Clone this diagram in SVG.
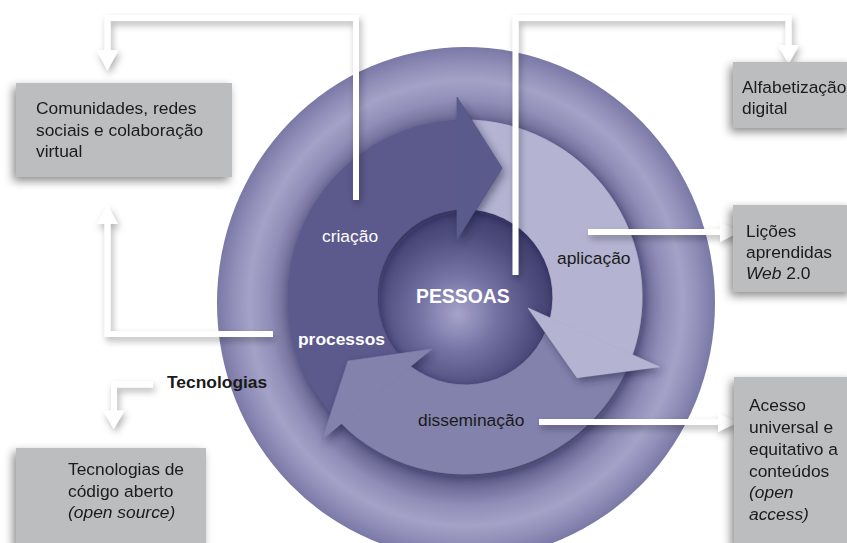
<svg xmlns="http://www.w3.org/2000/svg" width="847" height="543" viewBox="0 0 847 543">
<style>
.t{font-family:"Liberation Sans",Arial,sans-serif;font-size:17.4px;fill:#1a1a1a}
.w{fill:#ffffff}
.b{font-weight:bold}
.i{font-style:italic}
.box{fill:#bcbdbf}
.ln{fill:none;stroke:#ffffff;stroke-width:6;stroke-linejoin:miter;stroke-linecap:butt}
.hd{fill:#ffffff}
.cr{fill:#5b5a8c;stroke:#5b5a8c;stroke-width:0.8}
.ap{fill:#b4b4d2;stroke:#b4b4d2;stroke-width:0.8}
.di{fill:#8382ad;stroke:#8382ad;stroke-width:0.8}
.sh{fill:#1e1c40;opacity:0.5}
</style>
<defs>
<radialGradient id="gOuter" cx="0.5" cy="0.5" r="0.5">
<stop offset="0.66" stop-color="#56547f"/>
<stop offset="0.715" stop-color="#6c6a96"/>
<stop offset="0.79" stop-color="#908eb8"/>
<stop offset="0.87" stop-color="#a4a2c7"/>
<stop offset="0.94" stop-color="#908eb8"/>
<stop offset="1" stop-color="#7a78a5"/>
</radialGradient>
<radialGradient id="gCenter" cx="0.46" cy="0.58" r="0.62" fx="0.46" fy="0.6">
<stop offset="0" stop-color="#a6a4cb"/>
<stop offset="0.35" stop-color="#7573a4"/>
<stop offset="0.72" stop-color="#4e4c7d"/>
<stop offset="1" stop-color="#3a3866"/>
</radialGradient>
<filter id="fBox" filterUnits="userSpaceOnUse" x="0" y="0" width="847" height="543">
<feDropShadow dx="-3" dy="4" stdDeviation="5" flood-color="#000" flood-opacity="0.45"/>
</filter>
<filter id="fLine" filterUnits="userSpaceOnUse" x="0" y="0" width="847" height="543">
<feDropShadow dx="2" dy="4" stdDeviation="3.5" flood-color="#000" flood-opacity="0.3"/>
</filter>
<filter id="fBand" filterUnits="userSpaceOnUse" x="0" y="0" width="847" height="543">
<feDropShadow dx="2" dy="3" stdDeviation="5" flood-color="#1e1c40" flood-opacity="0.4"/>
</filter>
<filter id="fBlur" filterUnits="userSpaceOnUse" x="0" y="0" width="847" height="543">
<feGaussianBlur stdDeviation="4.5"/>
</filter>
<mask id="mCr" maskUnits="userSpaceOnUse" x="0" y="0" width="847" height="543">
<rect width="847" height="543" fill="#fff"/>
<path d="M337.7,420 A177,177 0 0 1 457,120.2 L457,97 L502,168 L457,240 L457,209.4 A88,88 0 0 0 401.7,358.1 Z" fill="#000"/>
</mask>
<mask id="mAp" maskUnits="userSpaceOnUse" x="0" y="0" width="847" height="543">
<rect width="847" height="543" fill="#fff"/>
<path d="M465,120 A177,177 0 0 1 632.4,354.6 L660,367 L577,378 L528,308 L550.4,318 A88,88 0 0 0 465,209 Z" fill="#000"/>
</mask>
<mask id="mDi" maskUnits="userSpaceOnUse" x="0" y="0" width="847" height="543">
<rect width="847" height="543" fill="#fff"/>
<path d="M629.1,363.3 A177,177 0 0 1 341.5,423.8 L322,440 L348,361 L432,349 L410.9,366.4 A88,88 0 0 0 546.6,330 Z" fill="#000"/>
</mask>
</defs>

<g id="ring">
<ellipse cx="466" cy="303" rx="249" ry="256" fill="url(#gOuter)"/>
</g>

<g id="center">
<circle cx="465" cy="297" r="88" fill="url(#gCenter)"/>
</g>

<g id="bands" filter="url(#fBand)">
<path class="cr" d="M337.7,420 A177,177 0 0 1 457,120.2 L457,209.4 A88,88 0 0 0 401.7,358.1 Z"/>
<path class="ap" d="M465,120 A177,177 0 0 1 632.4,354.6 L550.4,318 A88,88 0 0 0 465,209 Z"/>
<path class="di" d="M629.1,363.3 A177,177 0 0 1 341.5,423.8 L410.9,366.4 A88,88 0 0 0 546.6,330 Z"/>
</g>

<g id="arrowheads">
<path class="cr" d="M457,97 L502,168 L457,240 Z"/>
<path class="ap" d="M528,308 L660,367 L577,378 Z"/>
<path class="di" d="M432,349 L348,361 L322,440 Z"/>
</g>

<g id="arrow-shadows">
<g mask="url(#mCr)"><path class="sh" filter="url(#fBlur)" transform="translate(3,4)" d="M457,97 L502,168 L457,240 Z"/></g>
<g mask="url(#mAp)"><path class="sh" filter="url(#fBlur)" transform="translate(3,4)" d="M528,308 L660,367 L577,378 Z"/></g>
<g mask="url(#mDi)"><path class="sh" filter="url(#fBlur)" transform="translate(3,4)" d="M432,349 L348,361 L322,440 Z"/></g>
</g>

<g id="ring-labels">
<text class="t w" x="322" y="242">criação</text>
<text class="t" x="557" y="264">aplicação</text>
<text class="t w b" x="416" y="303" style="font-size:19.4px">PESSOAS</text>
<text class="t w b" x="298" y="345">processos</text>
<text class="t" x="418" y="426">disseminação</text>
<text class="t b" x="167" y="388">Tecnologias</text>
</g>

<g id="connectors" filter="url(#fLine)">
<path class="ln" d="M356,200 V18 H107.5 V52"/>
<path class="hd" d="M96.5,50 H118.5 L107.5,70.5 Z"/>
<path class="ln" d="M515.5,275 V18 H788.5 V47"/>
<path class="hd" d="M778,45 H799 L788.5,64 Z"/>
<path class="ln" d="M588,232 H722"/>
<path class="hd" d="M720,222 V242 L739,232 Z"/>
<path class="ln" d="M539,422 H720"/>
<path class="hd" d="M718,413 V432 L737,422.5 Z"/>
<path class="ln" d="M273,334 H107.5 V222"/>
<path class="hd" d="M97,224 H118 L107.5,205 Z"/>
<path class="ln" d="M153,384.5 H114 V412"/>
<path class="hd" d="M103,410.5 H124.5 L113.8,429 Z"/>
</g>

<g id="node-comunidades" filter="url(#fBox)">
<rect class="box" x="16" y="83" width="216" height="94"/>
<text class="t" x="36" y="114">Comunidades, redes</text>
<text class="t" x="36" y="135.5">sociais e colaboração</text>
<text class="t" x="36" y="157">virtual</text>
</g>

<g id="node-alfabetizacao" filter="url(#fBox)">
<rect class="box" x="733" y="62" width="120" height="66"/>
<text class="t" x="742" y="93">Alfabetização</text>
<text class="t" x="742" y="114">digital</text>
</g>

<g id="node-licoes" filter="url(#fBox)">
<rect class="box" x="733" y="205" width="120" height="87"/>
<text class="t" x="746" y="237">Lições</text>
<text class="t" x="746" y="258">aprendidas</text>
<text class="t" x="746" y="279"><tspan class="i">Web</tspan> 2.0</text>
</g>

<g id="node-acesso" filter="url(#fBox)">
<rect class="box" x="734" y="377" width="120" height="170"/>
<text class="t" x="749" y="411">Acesso</text>
<text class="t" x="749" y="433">universal e</text>
<text class="t" x="749" y="455">equitativo a</text>
<text class="t" x="749" y="477">conteúdos</text>
<text class="t i" x="749" y="498">(open</text>
<text class="t i" x="749" y="520">access)</text>
</g>

<g id="node-tecnologias" filter="url(#fBox)">
<rect class="box" x="16" y="448" width="190" height="99"/>
<text class="t" x="68" y="475">Tecnologias de</text>
<text class="t" x="68" y="497">código aberto</text>
<text class="t i" x="68" y="518">(open source)</text>
</g>
</svg>
